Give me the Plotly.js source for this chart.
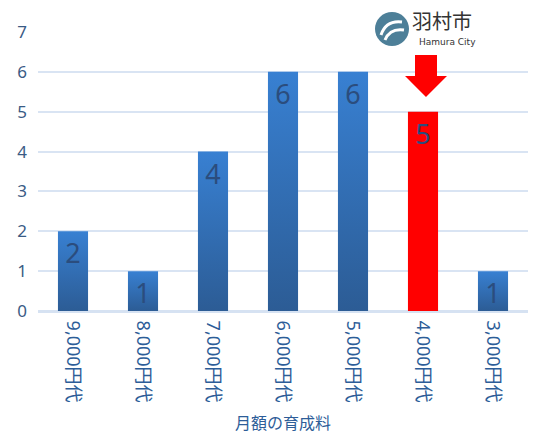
<!DOCTYPE html>
<html>
<head>
<meta charset="utf-8">
<script src="https://cdn.plot.ly/plotly-3.0.1.min.js"></script>
<style>html,body{margin:0;padding:0;background:#fff;}#chart{width:539px;height:438px;}</style>
</head>
<body>
<div id="chart"></div>
<script>
const categories = ["9,000円代","8,000円代","7,000円代","6,000円代","5,000円代","4,000円代","3,000円代"];
const counts = [2, 1, 4, 6, 6, 5, 1];
const highlightCategory = "4,000円代";
const yTicks = [0,1,2,3,4,5,6,7];
const xTitle = "月額の育成料";
const logoTitle = "羽村市";
const logoSub = "Hamura City";

const W = 539, H = 438, ML = 38, MR = 11, MT = 32, MB = 127;
const PW = W - ML - MR, PH = H - MT - MB;
const fx = px => (px - ML) / PW;
const fy = py => (H - MB - py) / PH;
function pathP(pts){ return pts.map((p,i)=>(i? 'L':'M') + fx(p[0]).toFixed(4) + ',' + fy(p[1]).toFixed(4)).join(' ') + ' Z'; }

const colors = categories.map(c => c === highlightCategory ? '#ff0000' : '#3573bb');
const cjk = '"Noto Sans", "Noto Sans CJK JP", sans-serif';

const trace = {
  type: 'bar', x: categories, y: counts,
  marker: {color: colors},
  width: 0.43,
  text: counts.map(String),
  textposition: 'inside', insidetextanchor: 'end', constraintext: 'none', textangle: 0,
  textfont: {size: 27, color: '#2b4d7e', family: cjk},
  hoverinfo: 'none'
};

// arrow above highlighted bar (pixel-defined decoration)
const arrow = pathP([[415,55],[437,55],[437,76],[447,76],[426,97],[405,76],[415,76]]);

const shapes = [
  {type:'path', xref:'paper', yref:'paper', path: arrow, fillcolor:'#ff0000', line:{width:0}, layer:'above'},
  {type:'circle', xref:'paper', yref:'paper', x0: fx(375), x1: fx(409), y0: fy(46), y1: fy(12), fillcolor:'#4d7f98', line:{width:0}, layer:'above'},
  {type:'path', xref:'paper', yref:'paper', path: 'M'+fx(381)+','+fy(35)+' Q'+fx(386)+','+fy(20)+' '+fx(402)+','+fy(22), line:{color:'#ffffff', width:3}, layer:'above'},
  {type:'path', xref:'paper', yref:'paper', path: 'M'+fx(385)+','+fy(40)+' Q'+fx(390)+','+fy(28)+' '+fx(404)+','+fy(30), line:{color:'#ffffff', width:3}, layer:'above'},
];

const annotations = [
  {xref:'paper', yref:'paper', x: fx(410), y: fy(21), xanchor:'left', yanchor:'middle', text: logoTitle, showarrow:false, font:{family:'"Noto Sans CJK JP", sans-serif', size:20, color:'#333333'}},
  {xref:'paper', yref:'paper', x: fx(417), y: fy(41.5), xanchor:'left', yanchor:'middle', text: logoSub, showarrow:false, font:{family:'"DejaVu Sans", sans-serif', size:9, color:'#333333'}}
];

const layout = {
  width: W, height: H,
  margin: {l: ML, r: MR, t: MT, b: MB},
  paper_bgcolor: '#ffffff', plot_bgcolor: '#ffffff',
  showlegend: false,
  xaxis: {
    type: 'category', tickangle: 90,
    tickfont: {family: cjk, size: 18, color: '#2d5d98'},
    showgrid: false, showline: true, linecolor: '#d6e2f2', linewidth: 2,
    ticks: '', ticklabelstandoff: 4,
    title: {text: xTitle, font: {family: cjk, size: 16, color: '#2d5d98'}, standoff: 16}
  },
  yaxis: {
    range: [0, 7], tickvals: yTicks, ticks: '',
    tickfont: {family: cjk, size: 17, color: '#3a5b85'},
    showgrid: true, gridcolor: '#d9e4f3', gridwidth: 2,
    zeroline: true, zerolinecolor: '#d6e2f2', zerolinewidth: 2,
    ticklabelstandoff: 10
  },
  shapes: shapes, annotations: annotations,
  bargap: 0.57
};

Plotly.newPlot('chart', [trace], layout, {displayModeBar: false, staticPlot: true}).then(gd => {
  const svg = gd.querySelector('svg.main-svg');
  const ns = 'http://www.w3.org/2000/svg';
  let defs = svg.querySelector('defs');
  if (!defs) { defs = document.createElementNS(ns, 'defs'); svg.insertBefore(defs, svg.firstChild); }
  const lg = document.createElementNS(ns, 'linearGradient');
  lg.setAttribute('id', 'barGrad'); lg.setAttribute('x1','0'); lg.setAttribute('y1','0'); lg.setAttribute('x2','0'); lg.setAttribute('y2','1');
  lg.setAttribute('gradientUnits', 'objectBoundingBox');
  [['0','#3880d2'],['1','#2c5c95']].forEach(([o,c]) => { const s = document.createElementNS(ns,'stop'); s.setAttribute('offset',o); s.setAttribute('stop-color',c); lg.appendChild(s); });
  defs.appendChild(lg);
  gd.querySelectorAll('.bars .point path').forEach((p, i) => {
    if (categories[i] !== highlightCategory) p.style.fill = 'url(#barGrad)';
  });
});
</script>
</body>
</html>
